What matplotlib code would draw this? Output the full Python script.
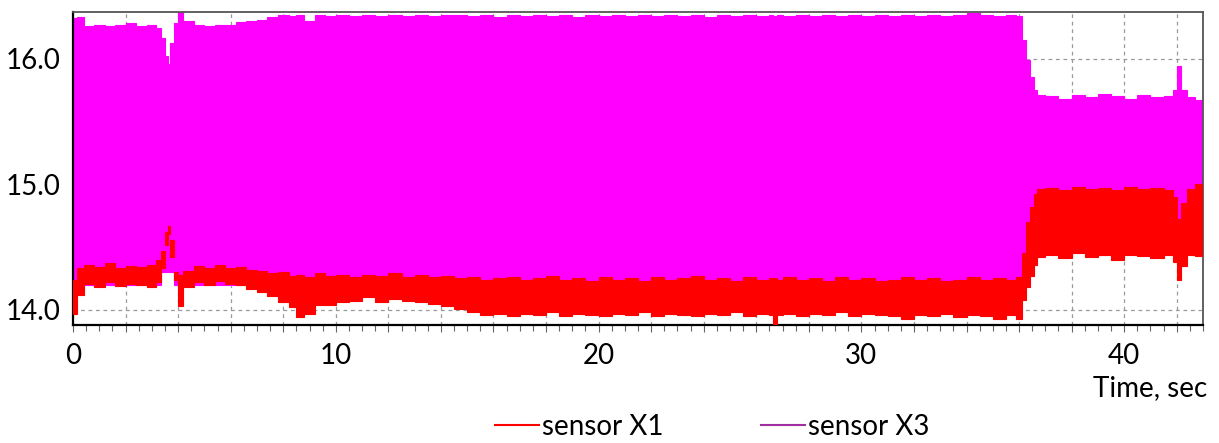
import numpy as np
import matplotlib.pyplot as plt
from matplotlib.ticker import MultipleLocator, FuncFormatter

plt.rcParams['font.family'] = ['Lato', 'DejaVu Sans']

# envelope of the two sensor signals (min / max over each time slice)
time = [0.0, 0.15, 0.4, 0.8, 1.2, 1.6, 2.0, 2.4, 2.8, 3.15, 3.35, 3.5, 3.6, 3.7, 3.85,
        4.0, 4.2, 4.6, 5.0, 5.4, 5.8, 6.2, 6.6, 7.0, 7.4, 7.8, 8.2, 8.5, 8.8, 9.2, 9.6,
        10.0, 10.5, 11.0, 11.5, 12.0, 12.5, 13.0, 13.5, 14.0, 14.5, 15.0, 15.5, 16.0,
        16.5, 17.0, 17.5, 18.0, 18.5, 19.0, 19.5, 20.0, 20.5, 21.0, 21.5, 22.0, 22.5,
        23.0, 23.5, 24.0, 24.5, 25.0, 25.5, 26.0, 26.5, 26.65, 26.8, 27.0, 27.5, 28.0,
        28.5, 29.0, 29.5, 30.0, 30.5, 31.0, 31.5, 32.0, 32.5, 33.0, 33.5, 34.0, 34.5,
        35.0, 35.5, 35.9, 36.1, 36.25, 36.4, 36.55, 36.7, 37.0, 37.5, 38.0, 38.5, 39.0,
        39.5, 40.0, 40.5, 41.0, 41.5, 41.85, 42.0, 42.15, 42.4, 42.7, 43.0]

x1_min = [13.97, 14.12, 14.21, 14.18, 14.22, 14.19, 14.21, 14.20, 14.18, 14.22, 14.33, 14.52, 14.60, 14.42, 14.24,
          14.03, 14.18, 14.22, 14.20, 14.23, 14.21, 14.20, 14.17, 14.14, 14.11, 14.06, 14.02, 13.94, 13.97, 14.04, 14.04,
          14.06, 14.07, 14.10, 14.06, 14.09, 14.07, 14.06, 14.05, 14.03, 14.01, 13.98, 13.96, 13.97,
          13.95, 13.97, 13.96, 13.98, 13.95, 13.97, 13.96, 13.95, 13.97, 13.96, 13.98, 13.95, 13.97,
          13.96, 13.95, 13.97, 13.96, 13.98, 13.95, 13.97, 13.96, 13.88, 13.96, 13.97, 13.95, 13.97,
          13.96, 13.98, 13.95, 13.97, 13.96, 13.95, 13.93, 13.96, 13.95, 13.97, 13.94, 13.96, 13.95,
          13.93, 13.96, 13.93, 14.08, 14.18, 14.27, 14.36, 14.42, 14.44, 14.41, 14.45, 14.42, 14.44,
          14.40, 14.44, 14.43, 14.41, 14.44, 14.38, 14.24, 14.35, 14.44, 14.43, 14.45]

x1_max = [14.24, 14.33, 14.36, 14.34, 14.37, 14.33, 14.35, 14.34, 14.36, 14.40, 14.47, 14.62, 14.67, 14.56, 14.30,
          14.28, 14.31, 14.35, 14.33, 14.36, 14.33, 14.34, 14.32, 14.31, 14.29, 14.30, 14.27, 14.28, 14.26, 14.29, 14.27,
          14.28, 14.26, 14.28, 14.27, 14.29, 14.26, 14.28, 14.26, 14.27, 14.25, 14.26, 14.24, 14.25,
          14.26, 14.24, 14.25, 14.27, 14.24, 14.25, 14.23, 14.26, 14.24, 14.25, 14.23, 14.26, 14.24,
          14.25, 14.27, 14.24, 14.25, 14.23, 14.26, 14.24, 14.25, 14.25, 14.24, 14.26, 14.24, 14.25,
          14.23, 14.26, 14.24, 14.25, 14.23, 14.24, 14.26, 14.24, 14.25, 14.23, 14.24, 14.26, 14.24,
          14.25, 14.24, 14.26, 14.45, 14.70, 14.82, 14.92, 14.96, 14.97, 14.95, 14.98, 14.96, 14.97,
          14.95, 14.98, 14.96, 14.97, 14.95, 14.90, 14.72, 14.85, 14.96, 15.00, 15.03]

x3_min = [14.15, 14.20, 14.20, 14.20, 14.20, 14.20, 14.20, 14.20, 14.20, 14.20, 14.30, 14.30, 14.30, 14.30, 14.20,
          14.20, 14.20, 14.20, 14.20, 14.20, 14.20, 14.20, 14.20, 14.20, 14.20, 14.20, 14.20, 14.20, 14.20, 14.20, 14.20,
          14.20, 14.20, 14.20, 14.20, 14.20, 14.20, 14.20, 14.20, 14.20, 14.20, 14.20, 14.20, 14.20,
          14.20, 14.20, 14.20, 14.20, 14.20, 14.20, 14.20, 14.20, 14.20, 14.20, 14.20, 14.20, 14.20,
          14.20, 14.20, 14.20, 14.20, 14.20, 14.20, 14.20, 14.20, 14.20, 14.20, 14.20, 14.20, 14.20,
          14.20, 14.20, 14.20, 14.20, 14.20, 14.20, 14.20, 14.20, 14.20, 14.20, 14.20, 14.20, 14.20,
          14.20, 14.20, 14.20, 14.30, 14.40, 14.50, 14.60, 14.60, 14.60, 14.60, 14.60, 14.60, 14.60,
          14.60, 14.60, 14.60, 14.60, 14.60, 14.60, 14.50, 14.60, 14.60, 14.60, 14.60]

x3_max = [16.32, 16.33, 16.26, 16.27, 16.26, 16.27, 16.28, 16.26, 16.27, 16.24, 16.16, 16.02, 15.96, 16.12, 16.28,
          16.37, 16.30, 16.27, 16.26, 16.27, 16.27, 16.29, 16.30, 16.31, 16.33, 16.35, 16.34, 16.35, 16.30, 16.35, 16.34,
          16.35, 16.34, 16.35, 16.34, 16.35, 16.34, 16.35, 16.34, 16.35, 16.35, 16.34, 16.35, 16.33,
          16.35, 16.34, 16.35, 16.34, 16.35, 16.33, 16.35, 16.34, 16.35, 16.34, 16.35, 16.34, 16.35,
          16.34, 16.35, 16.33, 16.35, 16.34, 16.35, 16.34, 16.35, 16.34, 16.35, 16.34, 16.35, 16.34,
          16.35, 16.34, 16.35, 16.34, 16.35, 16.34, 16.35, 16.34, 16.35, 16.34, 16.35, 16.36, 16.35,
          16.34, 16.35, 16.34, 16.15, 15.99, 15.85, 15.75, 15.71, 15.70, 15.68, 15.71, 15.69, 15.72,
          15.70, 15.68, 15.71, 15.69, 15.70, 15.75, 15.94, 15.75, 15.69, 15.67, 15.65]

t = np.array(time)
dt = np.diff(np.append(t, 43.2))

fig = plt.figure(figsize=(12.19, 4.43), dpi=100)
ax = fig.add_axes([0.0599, 0.2664, 0.927, 0.7065])

lo3, hi3 = np.array(x3_min), np.array(x3_max)
lo1, hi1 = np.array(x1_min), np.array(x1_max)
ax.bar(t, hi3 - lo3, width=dt, bottom=lo3, align='edge', color='#ff00ff',
       edgecolor='#ff00ff', lw=0.8, zorder=2)
ax.bar(t, hi1 - lo1, width=dt, bottom=lo1, align='edge', color='#ff0000',
       edgecolor='#ff0000', lw=0.8, zorder=3)

ax.set_xlim(0, 43)
ax.set_ylim(13.88, 16.37)

ax.set_xticks(np.arange(0, 43, 2))
ax.set_xticks(np.arange(0, 43.1, 0.5), minor=True)
ax.xaxis.set_major_formatter(FuncFormatter(lambda v, p: '%d' % v if v % 10 == 0 else ''))
ax.set_yticks([14.0, 15.0, 16.0])
ax.yaxis.set_major_formatter(FuncFormatter(lambda v, p: '%.1f' % v))

ax.grid(True, which='major', color='#9a9a9a', ls=(0, (3, 3)), lw=0.9)
ax.grid(False, which='minor')
ax.set_axisbelow(True)
ax.tick_params(axis='x', which='major', direction='out', length=5, width=0.8,
               color='#666666', labelsize=20, pad=8)
ax.tick_params(axis='x', which='minor', direction='out', length=4, width=0.8,
               color='#666666')
ax.tick_params(axis='y', length=0, labelsize=20, pad=9)

for s in ['left', 'bottom']:
    ax.spines[s].set_color('black')
    ax.spines[s].set_linewidth(1.6)
for s in ['top', 'right']:
    ax.spines[s].set_color('#555555')
    ax.spines[s].set_linewidth(1.3)

fig.text(1207 / 1219, 1 - 388 / 443, 'Time, sec', ha='right', va='center', fontsize=20)

h1, = ax.plot([], [], color='#ff0000', lw=1.5, label='sensor X1')
h2, = ax.plot([], [], color='#a030a0', lw=1.5, label='sensor X3')
fig.legend(handles=[h1, h2], loc='center', bbox_to_anchor=(712 / 1219, 1 - 427 / 443),
           ncol=2, frameon=False, fontsize=20, handlelength=1.6, handletextpad=0.1,
           columnspacing=3.5, borderpad=0)

fig.savefig('out.png', dpi=100)
